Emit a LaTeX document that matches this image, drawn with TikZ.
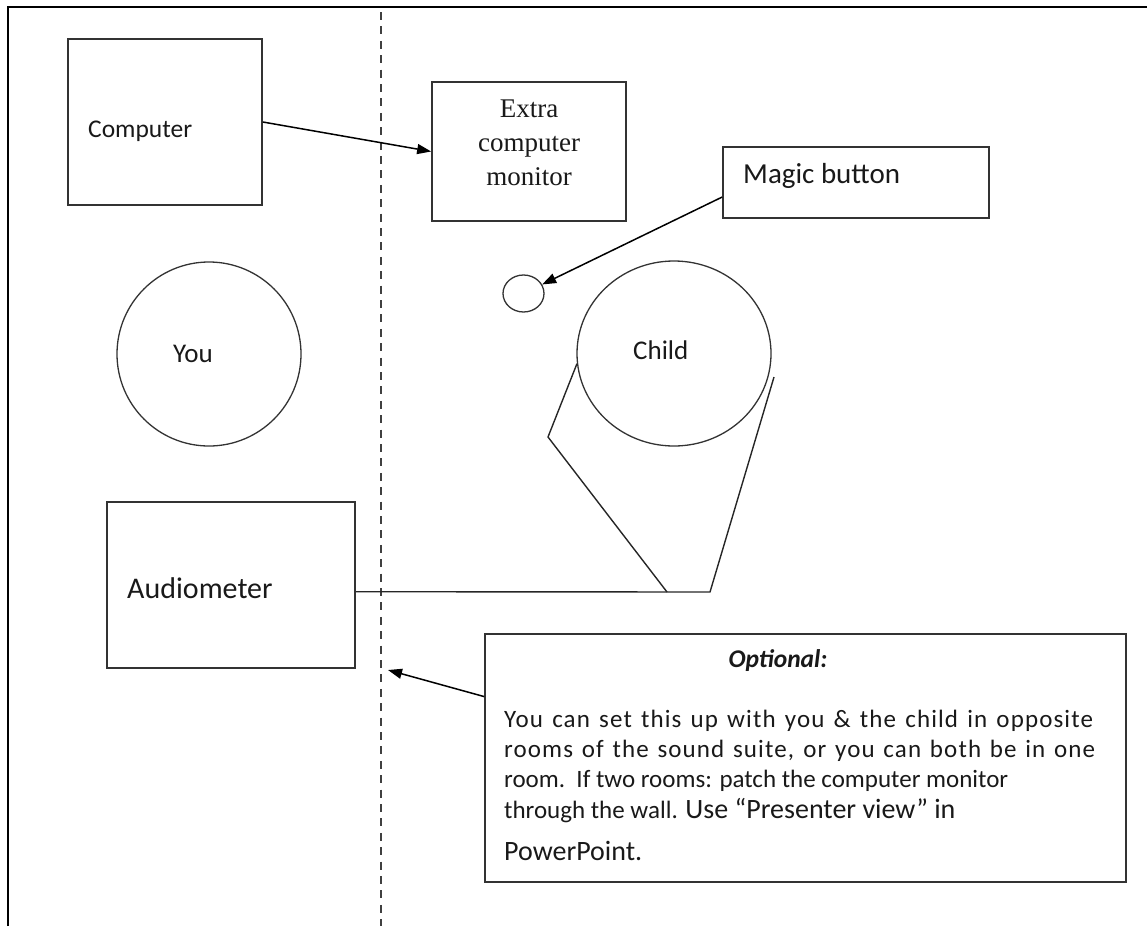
\documentclass[tikz,border=0pt]{standalone}
\usepackage{fontspec}
\setmainfont{Carlito}
\newfontfamily\seriffont{Liberation Serif}
\usetikzlibrary{arrows.meta,shapes.geometric,calc}
\begin{document}
\begin{tikzpicture}[x=1pt,y=-1pt,
  box/.style={draw=black!80,line width=1.7pt,rectangle,inner sep=0pt},
  ring/.style={draw=black!80,line width=1.3pt,ellipse,inner sep=0pt},
  lbl/.style={anchor=base west,inner sep=0pt,text=black!90},
  cbl/.style={anchor=base,inner sep=0pt,text=black!90},
  note/.style={lbl,font=\fontsize{25}{30}\selectfont},
  arr/.style={line width=1.5pt,-{Triangle[length=14pt,width=10pt]}},
  wire/.style={line width=1.4pt,black!85}]
\useasboundingbox (0,0) rectangle (1147,926);

% room walls and the partition between the two rooms
\draw[line width=2pt] (8,926) -- (8,7) -- (1147,7);
\draw[line width=2.2pt,black!75,dash pattern=on 8pt off 6.4pt] (381,12) -- (381,926);

% equipment boxes
\node[box,minimum width=194pt,minimum height=166pt] (comp) at (165,122) {};
\node[box,minimum width=194pt,minimum height=139pt] (extra) at (529,151.5) {};
\node[box,minimum width=266pt,minimum height=71pt] (magic) at (856,182.5) {};
\node[box,minimum width=248pt,minimum height=166pt] (aud) at (231,585) {};
\node[box,minimum width=641pt,minimum height=248pt] (opt) at (805.5,758) {};

% people and the button
\node[ring,minimum width=184pt,minimum height=184pt] (you) at (209,354) {};
\node[ring,minimum width=194pt,minimum height=185pt] (child) at (674,353.5) {};
\node[ring,minimum width=41pt,minimum height=37pt] (btn) at (523.5,293.5) {};

% labels
\node[lbl,font=\fontsize{25.5}{30}\selectfont] (comptxt) at (88,137) {Computer};
\node[cbl,font=\seriffont\fontsize{27}{34}\selectfont] (ex1) at (529,117) {Extra};
\node[cbl,font=\seriffont\fontsize{27}{34}\selectfont] (ex2) at (529,151) {computer};
\node[cbl,font=\seriffont\fontsize{27}{34}\selectfont] (ex3) at (529,185) {monitor};
\node[lbl,font=\fontsize{29}{34}\selectfont] (magictxt) at (743,183) {Magic button};
\node[lbl,font=\fontsize{27}{32}\selectfont] (youtxt) at (173,362) {You};
\node[lbl,font=\fontsize{27}{32}\selectfont] (childtxt) at (633,359) {Child};
\node[lbl,font=\fontsize{30}{35}\selectfont] (audtxt) at (127,598) {Audiometer};

% note
\node[cbl,font=\fontsize{25.5}{30}\selectfont\bfseries\itshape] (opthead) at (778,667) {Optional:};
\node[note] (opt1) at (504,727)
  {\addfontfeature{LetterSpace=4.5}\makebox[589pt][s]{You can set this up with you \& the child in opposite}};
\node[note] (opt2) at (504,757)
  {\addfontfeature{LetterSpace=4.5}\makebox[591pt][s]{rooms of the sound suite, or you can both be in one}};
\node[note] (opt3) at (504,787) {room.\ \ If two rooms: patch the computer monitor};
\node[note] (opt4) at (504,818) {through the wall. {\fontsize{28}{34}\selectfont Use “Presenter view” in}};
\node[lbl,font=\fontsize{28}{34}\selectfont] (opt5) at (504,860) {PowerPoint.};

% connectors
\draw[arr] (comp.east) -- (extra.west);
\draw[arr] ($(magic.south west)!0.3!(magic.north west)$) -- (btn);
\coordinate (wallpt) at (388,670);
\draw[arr] ($(opt.south west)!0.746!(opt.north west)$) -- (wallpt);

% cable from the audiometer to the child's headphones
\coordinate (elbow) at (548,437);
\coordinate (footL) at (667,592);
\coordinate (footR) at (710,592);
\coordinate (shoulder) at (774,377);
\draw[wire] (child.186) -- (elbow) -- (footL);
\draw[wire] ($(aud.south east)!0.46!(aud.north east)$) -- (footR) -- (shoulder);
\end{tikzpicture}
\end{document}
